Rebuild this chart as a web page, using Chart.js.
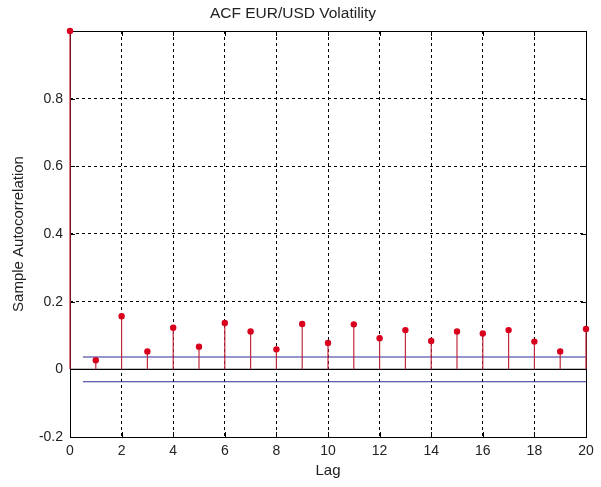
<!DOCTYPE html>
<html><head><meta charset="utf-8">
<script src="https://cdn.jsdelivr.net/npm/chart.js@4/dist/chart.umd.min.js"></script>
<style>html,body{margin:0;padding:0;background:#fff}#wrap{width:601px;height:487px}</style>
</head><body><div id="wrap"><canvas id="c" width="601" height="487"></canvas></div>
<script>
const lags = [0,1,2,3,4,5,6,7,8,9,10,11,12,13,14,15,16,17,18,19,20];
const acf = [1, 0.027, 0.157, 0.053, 0.123, 0.067, 0.137, 0.112, 0.059, 0.134, 0.078, 0.133, 0.092, 0.116, 0.084, 0.112, 0.106, 0.116, 0.082, 0.053, 0.119];
const confBound = 0.0365;
const boundLags = [0.5, 20];
const xTicks = [0,2,4,6,8,10,12,14,16,18,20];
const yTicks = [-0.2,0,0.2,0.4,0.6,0.8];

const FONT = '"Liberation Sans", Arial, sans-serif';

const stemData = [];
lags.forEach((k,i)=>{ stemData.push({x:k,y:0},{x:k,y:acf[i]},{x:k,y:null}); });
const markerData = lags.map((k,i)=>({x:k,y:acf[i]}));
const upperData = boundLags.map(x=>({x, y:confBound}));
const lowerData = boundLags.map(x=>({x, y:-confBound}));
const zeroData = [{x:xTicks[0],y:0},{x:xTicks[xTicks.length-1],y:0}];

const framePlugin = {
  id:'frame',
  beforeDatasetsDraw(chart){
    const {ctx, chartArea:a, scales:{x,y}} = chart;
    ctx.save();
    ctx.strokeStyle='#000'; ctx.lineWidth=1; ctx.setLineDash([]);
    ctx.strokeRect(Math.round(a.left)+0.5, Math.round(a.top)+0.5, Math.round(a.right-a.left), Math.round(a.bottom-a.top));
    ctx.beginPath();
    const L=5;
    xTicks.forEach(v=>{const px=Math.round(x.getPixelForValue(v))+0.5;
      ctx.moveTo(px,a.bottom); ctx.lineTo(px,a.bottom-L);
      ctx.moveTo(px,a.top); ctx.lineTo(px,a.top+L);});
    yTicks.forEach(v=>{const py=Math.round(y.getPixelForValue(v))+0.5;
      ctx.moveTo(a.left,py); ctx.lineTo(a.left+L,py);
      ctx.moveTo(a.right,py); ctx.lineTo(a.right-L,py);});
    ctx.stroke();
    ctx.restore();
  }
};

new Chart(document.getElementById('c'), {
  type:'scatter',
  data:{datasets:[
    {data:markerData, order:0, clip:false, showLine:false, pointRadius:3.2, pointBackgroundColor:'#d8001c', pointBorderColor:'#d8001c', pointBorderWidth:0},
    {data:stemData, order:1, clip:false, showLine:true, spanGaps:false, borderColor:'#c0283c', borderWidth:1.2, pointRadius:0},
    {data:upperData, order:2, showLine:true, borderColor:'#2c2c98', borderWidth:1.1, pointRadius:0},
    {data:lowerData, order:2, showLine:true, borderColor:'#2c2c98', borderWidth:1.1, pointRadius:0},
    {data:zeroData, order:3, clip:false, showLine:true, borderColor:'#000000', borderWidth:1.2, pointRadius:0, borderDash:[]}
  ]},
  plugins:[framePlugin],
  options:{
    responsive:false, animation:false, devicePixelRatio:1,
    layout:{padding:{top:0,right:15,left:0,bottom:0}},
    plugins:{
      legend:{display:false}, tooltip:{enabled:false},
      title:{display:true, text:'ACF EUR/USD Volatility', color:'#222', font:{family:FONT,size:15.5,weight:'normal'}, padding:{top:4,bottom:8.4}}
    },
    scales:{
      x:{type:'linear', min:0, max:20,
        afterBuildTicks(s){ s.ticks = xTicks.map(v=>({value:v})); },
        afterFit(s){ s.height = 50; },
        grid:{color:'#000', lineWidth:1, drawTicks:false},
        border:{display:false, dash:[3,3]},
        ticks:{color:'#222', font:{family:FONT,size:14}, padding:6, maxRotation:0, callback:v=>String(v)},
        title:{display:true, text:'Lag', color:'#222', font:{family:FONT,size:15}, padding:{top:0,bottom:7}}
      },
      y:{type:'linear', min:-0.2, max:1,
        afterBuildTicks(s){ s.ticks = yTicks.map(v=>({value:v})); },
        afterFit(s){ s.width = 70; },
        grid:{color:'#000', lineWidth:1, drawTicks:false},
        border:{display:false, dash:[3,3]},
        ticks:{color:'#222', font:{family:FONT,size:14}, padding:7, callback:v=>String(Math.round(v*10)/10)},
        title:{display:true, text:'Sample Autocorrelation', color:'#222', font:{family:FONT,size:15}, padding:{top:10,bottom:0}}
      }
    }
  }
});
</script></body></html>
